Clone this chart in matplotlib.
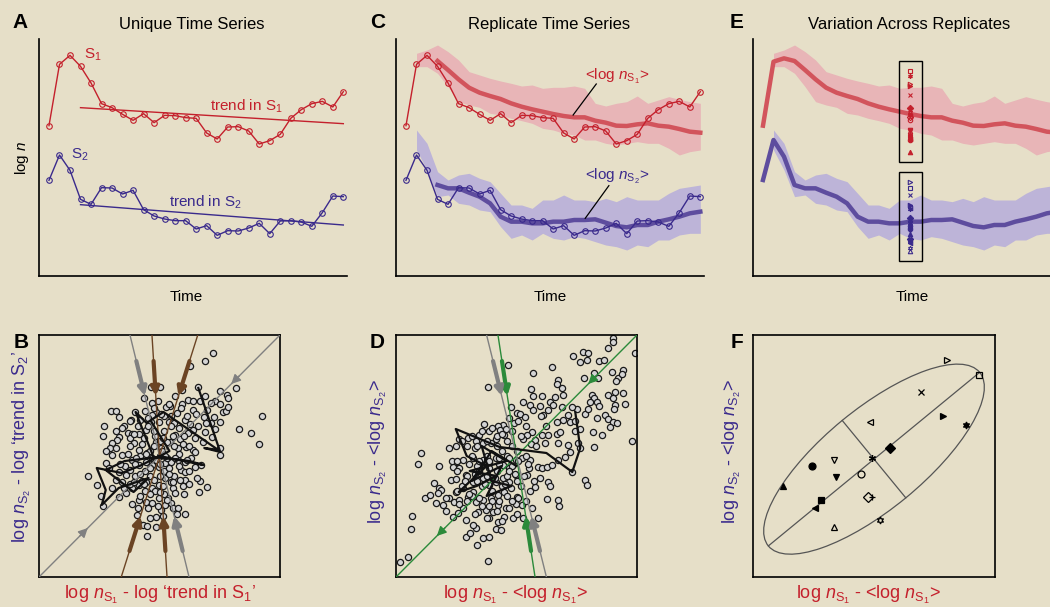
import numpy as np
import matplotlib.pyplot as plt
from matplotlib.patches import Ellipse, Rectangle

plt.rcParams['font.family'] = ['Liberation Sans', 'DejaVu Sans']
plt.rcParams['mathtext.fontset'] = 'custom'
plt.rcParams['mathtext.rm'] = 'Liberation Sans'
plt.rcParams['mathtext.it'] = 'Liberation Sans:italic'

# ---- time series (A, C, E) ----
t = np.arange(1, 30)
s1 = [4.51, 6.35, 6.62, 6.29, 5.79, 5.17, 5.05, 4.85, 4.67, 4.87, 4.60, 4.82, 4.81, 4.75, 4.73,
      4.29, 4.11, 4.47, 4.48, 4.35, 3.96, 4.06, 4.25, 4.73, 4.99, 5.17, 5.24, 5.07, 5.53]
s2 = [2.87, 3.63, 3.17, 2.30, 2.15, 2.65, 2.64, 2.46, 2.57, 1.99, 1.80, 1.71, 1.66, 1.66, 1.41,
      1.51, 1.22, 1.36, 1.35, 1.44, 1.58, 1.27, 1.65, 1.66, 1.62, 1.49, 1.90, 2.40, 2.38]
trend_t = [4, 29]
trend1 = [5.05, 4.57]
trend2 = [2.14, 1.53]

# replicate mean and spread
mean1 = [4.51, 6.43, 6.53, 6.45, 6.18, 5.90, 5.65, 5.50, 5.40, 5.31, 5.18, 5.08, 5.00, 4.93, 4.86,
         4.80, 4.76, 4.76, 4.66, 4.60, 4.51, 4.50, 4.55, 4.58, 4.51, 4.48, 4.41, 4.33, 4.30]
hi1 = [6.68, 6.78, 6.93, 6.73, 6.48, 6.13, 6.03, 5.93, 5.85, 5.78, 5.70, 5.73, 5.63, 5.66,
       5.66, 5.70, 5.63, 5.18, 5.10, 5.18, 5.23, 5.40, 5.18, 5.28, 5.38, 5.30, 5.23, 5.18]
lo1 = [6.28, 6.28, 6.08, 5.68, 5.23, 5.13, 5.06, 4.88, 4.83, 4.73, 4.66, 4.58, 4.43, 4.38,
       4.28, 4.23, 4.08, 4.08, 3.98, 3.93, 3.98, 4.03, 3.98, 3.98, 3.83, 3.63, 3.73, 3.78]
mean2 = [2.88, 4.08, 3.58, 2.73, 2.63, 2.63, 2.50, 2.38, 2.18, 1.78, 1.63, 1.63, 1.58, 1.58, 1.63,
         1.63, 1.68, 1.68, 1.70, 1.60, 1.50, 1.46, 1.53, 1.53, 1.63, 1.70, 1.78, 1.88, 1.93]
hi2 = [4.38, 3.98, 3.13, 2.88, 3.03, 3.08, 2.93, 2.83, 2.48, 2.13, 2.13, 2.03, 2.28, 2.28,
       2.43, 2.28, 2.28, 2.23, 2.33, 2.23, 2.38, 2.28, 2.28, 2.28, 2.48, 2.63, 2.68, 2.73]
lo2 = [3.78, 3.18, 2.38, 2.43, 2.18, 2.13, 1.98, 1.93, 1.48, 1.13, 1.23, 1.08, 1.28, 1.13,
       1.08, 1.18, 1.13, 1.03, 0.93, 0.88, 0.78, 0.93, 0.88, 1.08, 1.08, 1.23, 1.28, 1.28]

# ---- replicates at one time point (E, F) ----
rep_t = 15
rep_marker = ['>', 's', 'x', '<', '>', (6, 1, 0), 'D', (6, 2, 0), 'o', 'v', 'v', 'o', 'D', '+',
              '^', 's', '<', '^', (6, 1, 0)]
rep_filled = [0, 0, 1, 0, 1, 1, 1, 1, 1, 0, 1, 0, 0, 1, 1, 1, 1, 0, 0]
rep_dx = [0.60, 0.87, 0.39, -0.03, 0.57, 0.76, 0.13, -0.02, -0.51, -0.33, -0.31, -0.11, -0.05,
          -0.02, -0.75, -0.44, -0.49, -0.33, 0.05]
rep_dy = [0.79, 0.67, 0.53, 0.28, 0.33, 0.26, 0.07, -0.02, -0.08, -0.03, -0.17, -0.15, -0.34,
          -0.34, -0.25, -0.36, -0.43, -0.59, -0.53]
ell_center = (0.0, -0.026)
ell_a, ell_b, ell_angle = 1.13, 0.414, 39.4

# ---- scatter of deviations (B) ----
b_x = [54, 46, 31, -9, 0, 39, 23, 61, 77, 68, 69, 16, 46, 29, 34, 41, 56, 61, 52, 23, 11, 7, -8,
       -49, -44, -25, -41, -29, -20, -4, -8, 18, 22, 34, 37, 48, 45, 55, 64, 67, 69, 61, 52, -56,
       -44, -57, -32, -28, -30, -41, -43, -48, -50, -26, -21, -14, -9, -1, 10, 15, 26, 31, 39, 47,
       46, 56, 53, 61, 80, 92, 100, 103, 16, 21, 29, 36, 11, -4, 2, 19, 27, 34, -21, -13, -38,
       -48, -54,
       -72, -63, -59, -57, -54, -51, -41, -34, -28, -21, -14, -8, -1, 6, 12, 19, 26, 32, 36, 42,
       61, 22, 26, 26, 21, 12, 14, 16, 25, 41, 48, 40, 9, 12, 6, 14, 19, 18, 26, 2, -4, -10, -23,
       -21, -17, -13, -4, -13, -28, -21, -14, -8, -1, -34, -41, -48, -28, -21, -14, -8, -1, 6,
       -44, -38,
       -30, -20, -10, 0, 8, 20, -5, 5, 15, -15, -25, 5, 15, -10, 0, 8, -18, 25, 30, -35, -5, -15,
       5, -25, 12, -12, 20, 0, -8, 3, -36, -30, 30, -2, 5, -15, -18, 10, -6, 24,
       -30, -22, -12, 2, 12, 28, -26, -16, -6, 4, 14, 24, 34, -32, -24, -14, -4, 6, 16, 28, -30,
       -20, -10, 0, 10, 20, -26, -16, -6, 4, 14, -20, -10, 0, 8, -2, -12, 4, 30, 36, -36, -40,
       -44, -38, 44, 38, -6, 10, -16, -22]
b_y = [103, 95, 90, 69, 69, 69, 66, 65, 68, 61, 58, 60, 60, 56, 55, 55, 55, 52, 53, 52, 50, 49,
       53, 45, 45, 44, 39, 36, 36, 44, 41, 43, 48, 46, 42, 46, 39, 39, 44, 45, 49, 34, 33, 30, 25,
       20, 23, 22, 18, 19, 16, 13, 8, 13, 22, 26, 34, 34, 34, 33, 36, 32, 30, 33, 24, 27, 19, 8,
       27, 23, 12, 40, 21, 17, 23, 18, 14, 14, 8, 8, 9, 6, 6, 3, 1, 1, 5,
       -20, -29, -40, -50, -7, -12, -16, -19, -4, -9, -6, -9, -11, -7, -6, -4, -6, -2, -11, -9, 1,
       -14, -16, -24, -24, -26, -32, -37, -38, -25, -31, -36, -42, -47, -49, -52, -52, -58, -58,
       -54, -61, -62, -59, -68, -69, -70, -71, -80, -48, -44, -46, -47, -42, -37, -41, -32, -32,
       -29, -26, -32, -29, -22, -24, -26,
       10, 0, 5, 0, -2, 2, 20, 25, 10, -15, -20, -15, -20, -20, 15, 14, 12, 20, -15, -10, -35,
       -35, -38, -8, 30, 30, 28, -20, -2, 5, 30, -28, 10, 55, 40, 45, -25, -12, 25, -30,
       35, 30, 38, 42, 40, 40, 22, 18, 10, 18, 20, 12, 26, 2, -2, 2, -4, 0, -2, -4, -14,
       -18, -12, -8, -18, -10, -26, -28, -24, -30, -26, -40, -38, -36, -44, -50, -52, -60, -28,
       4, -32, -8, 8, 28, 14, -22, 48, 52, 58, -52]
b_path_x = [39, 61, 45, 59, 4, -13, -24, -6, 30, 44, 0, -20, -38, -63, -54, -58, -41, -11, -26,
            -54, -35, -1, 10, -8]
b_path_y = [68, 4, 8, 6, 44, 33, 44, -1, -5, -9, 0, -10, -17, -12, -34, -49, -32, -22, -36, -14,
            -5, -1, 5, 34]
b_slopes = [1.0, -4.08, -16.0, 3.15]

# ---- scatter of deviations (D) ----
d_x = [97, 97, 92, 119, 67, 72, 71, 64, 57, 83, 88, 36, 17, -9, -29, 78, 68, 82, 96, 102, 107,
       106, 100, 42, 41, 46, 47, 17, 26, 15, 39, 34, 37, 32, 27, 7, 14, 24, 17, -6, 1, 4, 9, -8,
       -3, 2, -14, -19, -17, -11, -13, -21, -28, -33, -38, -41, -34, -26, -68, -61, -58, -49, -42,
       -96, 76, 78, 74, 81, 83, 92, 99, 97, 107, 109, 99, 98, 89, 92, 97, 101, 81, 69, 72, 61,
       46, 56, 52, 47, 41, 54, 59, 64, 59, 41, 44, 32, 26, 16, 11, 7, 19, 29, 42, 52, 62, 78, 64,
       54, 116, 94, 86, 77,
       -99, -78, -105, -106, -109, -117, -29, -40, -34, -28, -51, -47, -41, -21, -16, -4, -13,
       -28, -19, -24, -31, -39, -54, -59, -71, -81, -92, -87, -83, -78, -76, -79, -66, -61, -68,
       -63, -58, -49, -41, -34, -26, -19, -13, -6, 1, 6, -1, -11, -19, 7, 16, 22, 31, 42, 43, 32,
       34, 24, 14, 19, 11, 13, 14, 22, 26, 31, 36, 42, 49, 56, 69, 71, 6, -1, -8, -14, -21, -28,
       -34, -44, -54, -61, -64, -58, -51, -44, -34, -28, -21, -14, -8, -1, -44, -54, -61, -71,
       -74, -51, -44, -64,
       -50, -40, -30, -20, -10, 0, -35, -25, -15, -45, -55, -60, -40, -30, -20, -10, 0, -5, -15,
       -25, -35, -5, 5, -45, -50, -20, -10, -30, -40, -60, -20, -10, -50, 10, -65, -5, -28, -38,
       -18, -8,
       -55, -45, -35, -25, -15, -5, 5, 15, -60, -48, -38, -28, -18, -8, 2, 12, -52, -42, -32, -22,
       -12, -2, 8, 18, -48, -38, -28, -18, -8, 2, -58, -42, -30, -15, 0, 10, 20, 30, 25, 10]
d_y = [118, 114, 108, 103, 104, 103, 96, 94, 100, 95, 96, 89, 83, 91, 69, 83, 78, 78, 84, 78,
       86, 82, 75, 76, 72, 68, 61, 60, 60, 67, 59, 54, 51, 46, 41, 54, 51, 50, 46, 49, 43, 42,
       39, 38, 33, 35, 31, 30, 26, 27, 21, 17, 25, 32, 21, 15, 13, 13, 8, 10, 17, 18, 8, 3, 61,
       58, 54, 54, 50, 61, 64, 58, 63, 52, 51, 47, 41, 37, 34, 33, 38, 42, 47, 47, 49, 49, 41,
       36, 34, 34, 35, 27, 25, 22, 24, 21, 21, 24, 21, 17, 16, 13, 13, 11, 13, 9, 8, 4, 15, 29,
       21, 24,
       -8, -10, -60, -73, -101, -106, -105, -89, -82, -81, -81, -77, -72, -73, -74, -62, -61,
       -62, -66, -56, -54, -56, -52, -57, -55, -47, -42, -39, -27, -32, -34, -37, -24, -23, -42,
       -46, -44, -41, -46, -44, -42, -39, -36, -32, -41, -49, -48, -52, -49, -62, -52, -62, -43,
       -44, -50, -26, -30, -22, -35, -31, -19, -12, -4, -11, -12, -11, -9, -4, -1, -16, -24, -29,
       -2, -4, -12, -9, -2, -6, -4, -2, -4, -6, -11, -12, -19, -26, -22, -29, -26, -22, -26, -19,
       -36, -32, -36, -42, -49, -64, -69, -61,
       -20, -10, 0, -15, -20, -25, -30, -35, -30, -40, -30, -15, 10, 15, 10, 0, 5, -10, 5, -45,
       -50, -45, -30, 0, 10, 20, 15, -20, -25, -35, -55, -40, -45, 0, -5, 10, -12, -5, -8, -15,
       15, 20, 25, 28, 22, 25, 20, 12, -5, -8, -15, -5, -2, -2, -5, -8, -25, -18, -28, -22,
       -28, -18, -20, -25, -38, -42, -50, -45, -52, -42, -48, -58, -62, -65, -58, -45, 10, 30,
       40, 30]
d_path_x = [59, 64, 56, 30, -17, -61, -50, -30, -58, -40, -20, -47, -10, -35, -25, -5, -30, -15,
            -45, -25, 0]
d_path_y = [44, 8, -16, 3, 9, 27, 0, -10, -36, -30, -20, -15, -5, 10, -25, -30, -40, -10, -25, 5,
            -10]
d_slopes = [1.0, -6.5, -4.03]

# colours
bg = '#e6dfc8'
red = '#c4202c'
blue = '#3a2a8c'
red_band, red_mean = '#e8b5b7', '#d2545c'
blue_band, blue_mean = '#bdb4d8', '#5e4d9e'
brown = '#6b4424'
green = '#2b8a3a'
gray = '#808080'

W, H = 1050, 607
fig = plt.figure(figsize=(W / 100, H / 100), dpi=100, facecolor=bg)


def box(x0, y0, x1, y1):
    return fig.add_axes([x0 / W, 1 - y1 / H, (x1 - x0) / W, (y1 - y0) / H])


def ftext(px, py, s, **kw):
    fig.text(px / W, 1 - py / H, s, ha='center', va='center', **kw)


def series_axes(ax):
    ax.set_facecolor(bg)
    ax.set_xlim(0.05, 29.35)
    ax.set_ylim(0, 7.11)
    ax.set_xticks([])
    ax.set_yticks([])
    for sp in ['top', 'right']:
        ax.spines[sp].set_visible(False)
    for sp in ['left', 'bottom']:
        ax.spines[sp].set_linewidth(1.2)


def draw_series(ax):
    ax.plot(t, s1, color=red, lw=1, marker='o', ms=4, mfc='none', mew=0.8, zorder=4)
    ax.plot(t, s2, color=blue, lw=1, marker='o', ms=4, mfc='none', mew=0.8, zorder=4)


def draw_bands(ax, start):
    ax.fill_between(t[1:], lo1, hi1, color=red_band, lw=0, zorder=1)
    ax.fill_between(t[1:], lo2, hi2, color=blue_band, lw=0, zorder=1)
    ax.plot(t[start:], mean1[start:], color=red_mean, lw=3.2, zorder=2)
    ax.plot(t[start:], mean2[start:], color=blue_mean, lw=3.2, zorder=2)


def scatter_axes(ax):
    ax.set_facecolor(bg)
    ax.set_xlim(-121, 121)
    ax.set_ylim(-121, 121)
    ax.set_xticks([])
    ax.set_yticks([])
    for sp in ax.spines.values():
        sp.set_linewidth(1.2)


def arrow(ax, slope, y0, y1, color, lw, ms):
    ax.annotate('', xy=(y1 / slope, y1), xytext=(y0 / slope, y0),
                arrowprops=dict(arrowstyle='-|>', color=color, lw=lw, mutation_scale=ms,
                                shrinkA=0, shrinkB=0), zorder=5)


# ---- A ----
ax = box(39, 39, 347, 276)
series_axes(ax)
draw_series(ax)
ax.plot(trend_t, trend1, color=red, lw=1, zorder=3)
ax.plot(trend_t, trend2, color=blue, lw=1, zorder=3)
ax.text(5.2, 6.63, 'S$_1$', color=red, fontsize=11, ha='center', va='center')
ax.text(19.8, 5.08, 'trend in S$_1$', color=red, fontsize=11, ha='center', va='center')
ax.text(3.9, 3.63, 'S$_2$', color=blue, fontsize=11, ha='center', va='center')
ax.text(15.9, 2.2, 'trend in S$_2$', color=blue, fontsize=11, ha='center', va='center')

# ---- C ----
ax = box(396, 39, 704, 276)
series_axes(ax)
draw_bands(ax, 3)
draw_series(ax)
ax.text(21.1, 5.98, r'<log $n_{\mathrm{S}_1}$>', color=red, fontsize=11, ha='center', va='center')
ax.plot([19.1, 16.9], [5.76, 4.83], color='black', lw=0.9, zorder=5)
ax.text(21.1, 2.98, r'<log $n_{\mathrm{S}_2}$>', color=blue, fontsize=11, ha='center', va='center')
ax.plot([20.3, 18.05], [2.71, 1.73], color='black', lw=0.9, zorder=5)

# ---- E ----
ax = box(753, 39, 1061, 276)
series_axes(ax)
draw_bands(ax, 0)
i = rep_t - 1
for series_mean, dev, col in [(mean1, rep_dx, red), (mean2, rep_dy, blue)]:
    ys = series_mean[i] + 1.5 * np.array(dev)
    for m, f, yv in zip(rep_marker, rep_filled, ys):
        ax.plot(rep_t, yv, marker=m, ms=3.2, color=col, mfc=col if f else 'none', mew=0.8,
                zorder=6)
    ax.add_patch(Rectangle((rep_t - 1.1, ys.min() - 0.3), 2.2, ys.max() - ys.min() + 0.6,
                           fill=False, ec='black', lw=1, zorder=6))

# ---- B ----
ax = box(39, 335, 280, 577)
scatter_axes(ax)
ax.scatter(b_x, b_y, s=20, facecolor='#d4d4d4', edgecolor='#1a1a1a', linewidths=0.9, zorder=2)
ax.plot(b_path_x, b_path_y, color='#111111', lw=1.6, zorder=4)
for k, m in enumerate(b_slopes):
    col = gray if k < 2 else brown
    ax.axline((0, 0), slope=m, color=col, lw=1.0, zorder=3)
    if k == 0:
        arrow(ax, m, 80, 72, col, 1, 14)
        arrow(ax, m, -80, -72, col, 1, 14)
    else:
        arrow(ax, m, 95, 60, col, 3, 12)
        arrow(ax, m, -95, -60, col, 3, 12)

# ---- D ----
ax = box(396, 335, 637, 577)
scatter_axes(ax)
ax.scatter(d_x, d_y, s=20, facecolor='#d4d4d4', edgecolor='#1a1a1a', linewidths=0.9, zorder=2)
ax.plot(d_path_x, d_path_y, color='#111111', lw=1.6, zorder=4)
for k, m in enumerate(d_slopes):
    col = gray if k == 2 else green
    ax.axline((0, 0), slope=m, color=col, lw=1.0, zorder=3)
    if k == 0:
        arrow(ax, m, 80, 72, col, 1, 14)
        arrow(ax, m, -72, -80, col, 1, 14)
    else:
        arrow(ax, m, 95, 60, col, 3, 12)
        arrow(ax, m, -95, -60, col, 3, 12)

# ---- F ----
ax = box(753, 335, 995, 577)
ax.set_facecolor(bg)
ax.set_xlim(-1, 1)
ax.set_ylim(-1, 1)
ax.set_xticks([])
ax.set_yticks([])
for sp in ax.spines.values():
    sp.set_linewidth(1.2)
ax.add_patch(Ellipse(ell_center, 2 * ell_a, 2 * ell_b, angle=ell_angle, fill=False,
                     ec='#555555', lw=0.9))
th = np.deg2rad(ell_angle)
cx, cy = ell_center
ax.plot([cx - ell_a * np.cos(th), cx + ell_a * np.cos(th)],
        [cy - ell_a * np.sin(th), cy + ell_a * np.sin(th)], color='#555555', lw=0.9)
ax.plot([cx + ell_b * np.sin(th), cx - ell_b * np.sin(th)],
        [cy - ell_b * np.cos(th), cy + ell_b * np.cos(th)], color='#555555', lw=0.9)
for m, f, xv, yv in zip(rep_marker, rep_filled, rep_dx, rep_dy):
    ax.plot(xv, yv, marker=m, ms=5, color='black', mfc='black' if f else 'none', mew=0.9,
            zorder=4)

# ---- labels ----
for px, s in [(20, 'A'), (378, 'C'), (737, 'E')]:
    ftext(px, 22, s, fontsize=15, fontweight='bold')
for px, s in [(21, 'B'), (377, 'D'), (737, 'F')]:
    ftext(px, 342, s, fontsize=15, fontweight='bold')
ftext(192, 24, 'Unique Time Series', fontsize=12)
ftext(549, 24, 'Replicate Time Series', fontsize=12)
ftext(909, 24, 'Variation Across Replicates', fontsize=12)
for px in [186, 550, 912]:
    ftext(px, 297, 'Time', fontsize=11)
ftext(22, 158, 'log $n$', fontsize=11, rotation=90)

ftext(22, 447, r'log $n_{\mathrm{S}_2}$ - log ‘trend in S$_2$’', fontsize=13, color=blue,
      rotation=90)
ftext(160, 595, r'log $n_{\mathrm{S}_1}$ - log ‘trend in S$_1$’', fontsize=13, color=red)
for px in [378, 732]:
    ftext(px, 452, r'log $n_{\mathrm{S}_2}$ - <log $n_{\mathrm{S}_2}$>', fontsize=13,
          color=blue, rotation=90)
for px in [515, 868]:
    ftext(px, 595, r'log $n_{\mathrm{S}_1}$ - <log $n_{\mathrm{S}_1}$>', fontsize=13, color=red)

fig.savefig('out.png', dpi=100, facecolor=bg)
